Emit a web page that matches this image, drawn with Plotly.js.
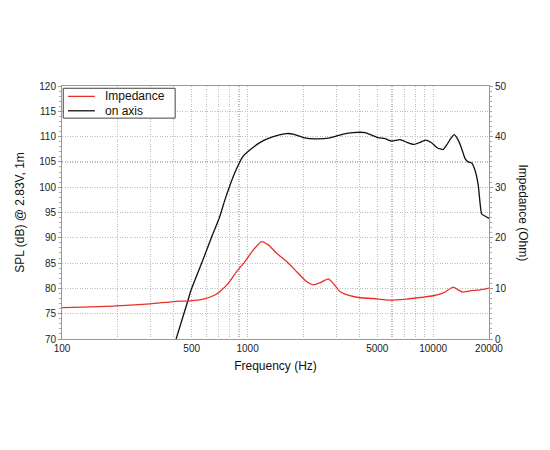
<!DOCTYPE html>
<html>
<head>
<meta charset="utf-8">
<script src="https://cdn.plot.ly/plotly-3.0.1.min.js"></script>
<style>html,body{margin:0;padding:0;background:#fff;}#chart{width:550px;height:450px;}</style>
</head>
<body>
<div id="chart"></div>
<script>
// On-axis SPL (dB @ 2.83V, 1m)
const splFreq = [412, 479, 493, 566, 641, 704, 755, 804, 866, 941, 1052, 1215, 1405, 1625, 1763, 1995, 2355, 2780, 3279, 3710, 4290, 4663, 5060, 5500, 5975, 6622, 7196, 7882, 8413, 9142, 9812, 10514, 11335, 11820, 12428, 12995, 13650, 14240, 14840, 15460, 16130, 16800, 17500, 18250, 19010, 20000];
const splDb   = [70.0, 77.8, 79.4, 85.0, 90.2, 93.9, 97.5, 100.4, 103.4, 106.0, 107.65, 109.2, 110.1, 110.6, 110.5, 109.8, 109.55, 109.75, 110.5, 110.8, 110.8, 110.3, 109.8, 109.6, 109.1, 109.4, 108.9, 108.45, 108.8, 109.3, 108.8, 107.8, 107.45, 108.3, 109.6, 110.4, 109.3, 107.65, 105.7, 105.0, 104.8, 103.4, 100.4, 94.7, 94.3, 93.85];

// Impedance (Ohm)
const impFreq = [100, 197, 298, 398, 490, 577, 667, 710, 787, 873, 968, 1074, 1191, 1293, 1435, 1625, 1839, 2080, 2260, 2455, 2721, 2895, 3147, 3562, 4033, 4755, 5848, 7196, 8492, 10012, 11335, 12823, 13650, 14520, 15780, 17870, 20000];
const impOhm  = [6.2, 6.55, 6.95, 7.4, 7.55, 7.9, 8.7, 9.4, 11.0, 13.3, 15.3, 17.6, 19.25, 18.6, 16.95, 15.3, 13.3, 11.35, 10.7, 11.1, 11.9, 11.0, 9.4, 8.55, 8.15, 8.0, 7.7, 7.9, 8.2, 8.55, 9.1, 10.25, 9.7, 9.25, 9.5, 9.7, 10.05];

const gridFreqs = [100,200,300,400,500,600,700,800,900,1000,2000,3000,4000,5000,6000,7000,8000,9000,10000,20000];
const freqLabels = {100:'100',500:'500',1000:'1000',5000:'5000',10000:'10000',20000:'20000'};

const seriesNames = ['Impedance', 'on axis'];
const seriesColors = ['#e8302a', '#111111'];

const font = 'Liberation Sans, Arial, Helvetica, sans-serif';

const traces = [
  {x: impFreq, y: impOhm, yaxis: 'y2', name: seriesNames[0], mode: 'lines', line: {color: seriesColors[0], width: 1.3, shape: 'spline', smoothing: 0.6}},
  {x: splFreq, y: splDb, name: seriesNames[1], mode: 'lines', line: {color: seriesColors[1], width: 1.3, shape: 'spline', smoothing: 0.4}}
];

// Hand-drawn legend box (paper coordinates)
const legRows = [0.959, 0.902];
const shapes = [
  {type: 'rect', xref: 'paper', yref: 'paper', x0: 0.003, x1: 0.265, y0: 0.873, y1: 0.991,
   line: {color: '#444', width: 1}, fillcolor: '#fff', layer: 'above'}
];
const annotations = [];
seriesNames.forEach((n, i) => {
  shapes.push({type: 'line', xref: 'paper', yref: 'paper', x0: 0.014, x1: 0.077, y0: legRows[i], y1: legRows[i],
               line: {color: seriesColors[i], width: 1.3}, layer: 'above'});
  annotations.push({text: n, xref: 'paper', yref: 'paper', x: 0.097, y: legRows[i], xanchor: 'left', yanchor: 'middle',
                    showarrow: false, font: {family: font, size: 12, color: '#111'}});
});
annotations.push({
  text: 'Impedance (Ohm)', xref: 'paper', yref: 'paper', x: 1.0, y: 0.5,
  xanchor: 'center', yanchor: 'middle', xshift: 34, textangle: 90, showarrow: false,
  font: {family: font, size: 12, color: '#111'}
});

const gridStyle = {showgrid: true, gridcolor: '#bdbdbd', griddash: '1px,1.5px', gridwidth: 1.2};

const layout = {
  width: 550, height: 450,
  margin: {l: 62, r: 61, t: 86, b: 111},
  paper_bgcolor: '#fff', plot_bgcolor: '#fff',
  font: {family: font, size: 10, color: '#222'},
  showlegend: false,
  xaxis: Object.assign({
    type: 'log', range: [2, Math.log10(20000)],
    tickvals: gridFreqs, ticktext: gridFreqs.map(f => freqLabels[f] || ''),
    showline: true, linecolor: '#999', mirror: true, linewidth: 1,
    ticks: '', zeroline: false,
    tickfont: {family: font, size: 10, color: '#222'},
    title: {text: 'Frequency (Hz)', font: {family: font, size: 12, color: '#111'}, standoff: 8}
  }, gridStyle),
  yaxis: Object.assign({
    range: [70, 120], dtick: 5, tick0: 70,
    showline: true, linecolor: '#999', mirror: true, linewidth: 1,
    ticks: 'outside', ticklen: 3, tickcolor: '#999',
    minor: {dtick: 1, ticklen: 2, tickcolor: '#aaa', ticks: 'outside', showgrid: false},
    zeroline: false,
    tickfont: {family: font, size: 10, color: '#222'},
    title: {text: 'SPL (dB) @ 2.83V, 1m', font: {family: font, size: 12, color: '#111'}, standoff: 12}
  }, gridStyle),
  yaxis2: {
    overlaying: 'y', side: 'right', range: [0, 50], dtick: 10, tick0: 0,
    showgrid: false, zeroline: false,
    showline: true, linecolor: '#999', linewidth: 1,
    ticks: 'outside', ticklen: 3, tickcolor: '#999',
    minor: {dtick: 1, ticklen: 2, tickcolor: '#aaa', ticks: 'outside', showgrid: false},
    tickfont: {family: font, size: 10, color: '#222'}
  },
  shapes: shapes,
  annotations: annotations
};

Plotly.newPlot('chart', traces, layout, {displayModeBar: false, staticPlot: true});
</script>
</body>
</html>
